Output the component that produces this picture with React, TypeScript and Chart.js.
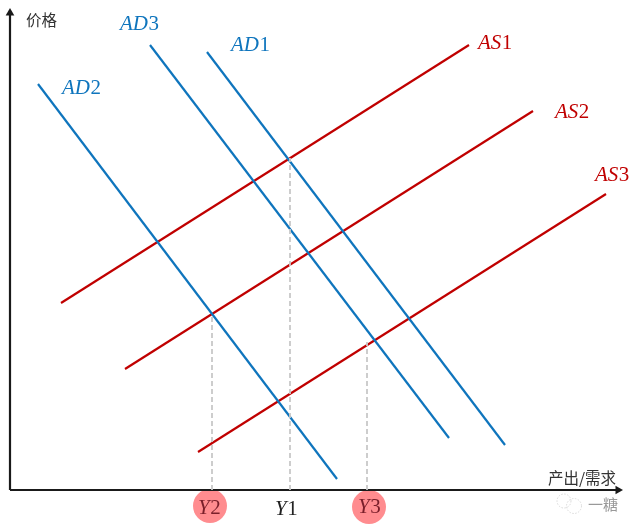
import React, { useEffect, useRef } from "react";
import { Chart, registerables } from "chart.js";

Chart.register(...registerables);

// Values: output (x) and price (y) measured from the axes' origin.
const ad1 = [{ x: 197, y: 438 }, { x: 495, y: 45 }];
const ad2 = [{ x: 28, y: 406 }, { x: 327, y: 11 }];
const ad3 = [{ x: 140, y: 445 }, { x: 439, y: 52 }];
const as1 = [{ x: 51, y: 187 }, { x: 459, y: 445 }];
const as2 = [{ x: 115, y: 121 }, { x: 523, y: 379 }];
const as3 = [{ x: 188, y: 38 }, { x: 596, y: 296 }];
const y1Guide = [{ x: 280, y: 0 }, { x: 280, y: 332 }];
const y2Guide = [{ x: 202, y: 0 }, { x: 202, y: 175 }];
const y3Guide = [{ x: 357, y: 0 }, { x: 357, y: 148 }];
const xAxisLine = [{ x: 0, y: 0 }, { x: 608, y: 0 }];
const yAxisLine = [{ x: 0, y: 0 }, { x: 0, y: 477 }];
const highlights = [{ x: 200, y: -16 }, { x: 359, y: -17 }];

const BLUE = "#0f75bd";
const RED = "#c00000";

// [italic part, upright part, x, y, colour]
const curveLabels: [string, string, number, number, string][] = [
  ["AD", "1", 221, 445, BLUE],
  ["AD", "2", 52, 402, BLUE],
  ["AD", "3", 110, 466, BLUE],
  ["AS", "1", 468, 447, RED],
  ["AS", "2", 545, 378, RED],
  ["AS", "3", 585, 315, RED],
  ["Y", "1", 265, -19, "#222222"],
  ["Y", "2", 188, -18, "#7a1f2a"],
  ["Y", "3", 348, -17, "#7a1f2a"],
];
const axisLabels: [string, number, number][] = [
  ["价格", 16, 470],
  ["产出/需求", 538, 12],
];

const labelPlugin = {
  id: "labels",
  afterDatasetsDraw(chart: any) {
    const { ctx, scales } = chart;
    const px = (v: number) => scales.x.getPixelForValue(v);
    const py = (v: number) => scales.y.getPixelForValue(v);
    ctx.save();
    ctx.textBaseline = "middle";
    ctx.textAlign = "left";
    for (const [it, up, x, y, color] of curveLabels) {
      ctx.fillStyle = color;
      ctx.font = 'italic 21px "Liberation Serif"';
      ctx.fillText(it, px(x), py(y));
      const w = ctx.measureText(it).width;
      ctx.font = '21px "Liberation Serif"';
      ctx.fillText(up, px(x) + w + 0.5, py(y));
    }
    ctx.fillStyle = "#333333";
    ctx.font = '15.5px "Noto Sans CJK SC"';
    for (const [t, x, y] of axisLabels) ctx.fillText(t, px(x), py(y));
    // watermark
    ctx.fillStyle = "#999999";
    ctx.font = '15px "Noto Sans CJK SC"';
    ctx.fillText("一糖", px(578), py(-14));
    ctx.strokeStyle = "#d0d0d0";
    ctx.lineWidth = 0.8;
    ctx.setLineDash([1.5, 1.5]);
    ctx.beginPath();
    ctx.arc(px(554), py(-11), 7, 0, Math.PI * 2);
    ctx.stroke();
    ctx.beginPath();
    ctx.arc(px(564), py(-16), 7.5, 0, Math.PI * 2);
    ctx.stroke();
    ctx.restore();
  },
};

const line = (data: any[], color: string, width: number) => ({
  data,
  borderColor: color,
  borderWidth: width,
  showLine: true,
  pointRadius: 0,
  fill: false,
});
const guide = (data: any[]) => ({ ...line(data, "#c8c8c8", 1.8), borderDash: [5, 3] });

export default function App() {
  const ref = useRef<HTMLCanvasElement>(null);
  useEffect(() => {
    document.body.style.margin = "0";
    const chart = new Chart(ref.current!, {
      type: "scatter",
      data: {
        datasets: [
          guide(y1Guide),
          guide(y2Guide),
          guide(y3Guide),
          line(ad1, BLUE, 2.2),
          line(ad2, BLUE, 2.2),
          line(ad3, BLUE, 2.2),
          line(as1, RED, 2.2),
          line(as2, RED, 2.2),
          line(as3, RED, 2.2),
          line(xAxisLine, "#1a1a1a", 2.2),
          line(yAxisLine, "#1a1a1a", 2.2),
          {
            data: [xAxisLine[1]],
            pointStyle: "triangle",
            rotation: 90,
            pointRadius: 5,
            backgroundColor: "#1a1a1a",
            borderWidth: 0,
          },
          {
            data: [yAxisLine[1]],
            pointStyle: "triangle",
            rotation: 0,
            pointRadius: 5,
            backgroundColor: "#1a1a1a",
            borderWidth: 0,
          },
          {
            data: highlights,
            pointStyle: "circle",
            pointRadius: 17,
            backgroundColor: "rgba(255,70,75,0.62)",
            borderWidth: 0,
          },
        ] as any,
      },
      options: {
        animation: false,
        responsive: false,
        layout: { padding: 0, autoPadding: false },
        clip: false,
        plugins: { legend: { display: false }, tooltip: { enabled: false } },
        scales: {
          x: { type: "linear", min: -10, max: 628, display: false },
          y: { type: "linear", min: -41, max: 490, display: false },
        },
      } as any,
      plugins: [labelPlugin],
    });
    return () => chart.destroy();
  }, []);
  return <canvas ref={ref} width={638} height={531} style={{ display: "block" }} />;
}
